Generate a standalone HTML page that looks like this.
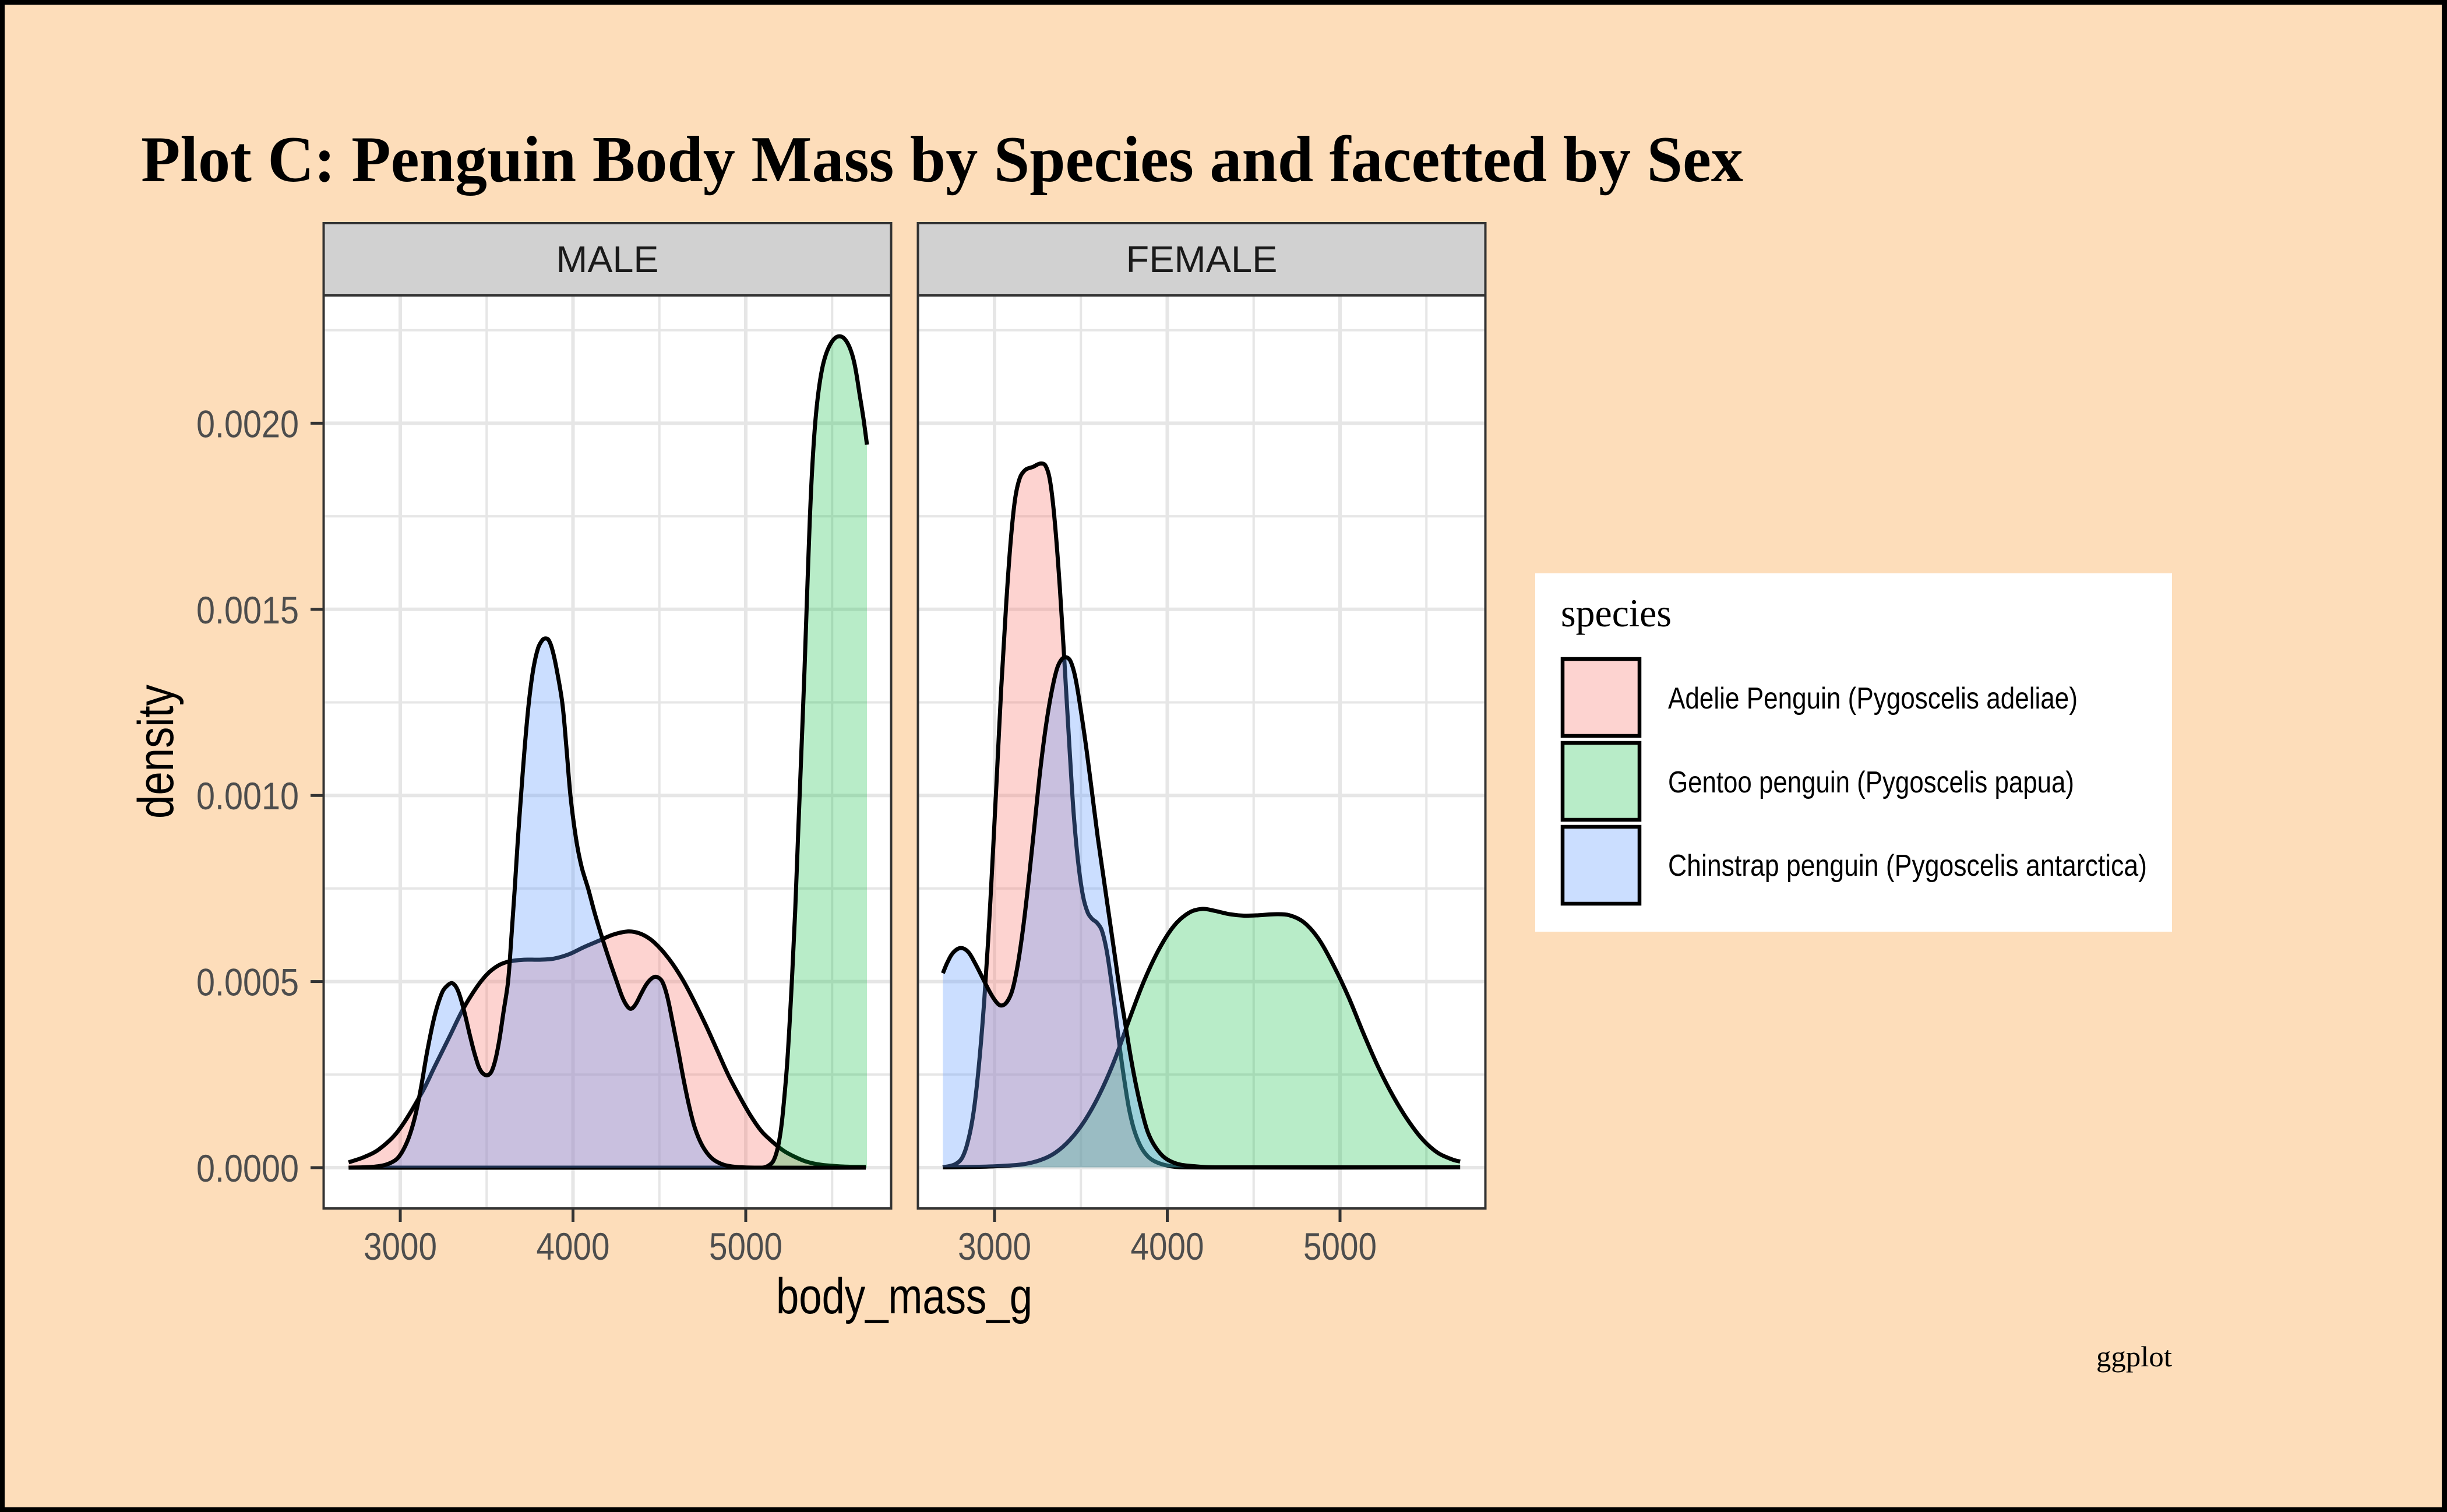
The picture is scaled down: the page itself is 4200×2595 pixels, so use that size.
<!DOCTYPE html>
<html>
<head>
<meta charset="utf-8">
<style>
html,body{margin:0;padding:0;background:#000;}
svg{display:block;}
</style>
</head>
<body>
<svg id="chart" xmlns="http://www.w3.org/2000/svg" width="4200" height="2595" viewBox="0 0 4200 2595">
  <rect x="0" y="0" width="4200" height="2595" fill="#000"/>
  <rect x="8" y="8" width="4183" height="2579" fill="#FDDDBA"/>

  <text x="242" y="311" font-family="'Liberation Serif', serif" font-weight="bold" font-size="112" fill="#000" textLength="2750" lengthAdjust="spacingAndGlyphs">Plot C: Penguin Body Mass by Species and facetted by Sex</text>

  <!-- ================= MALE PANEL ================= -->
  <rect x="555.5" y="507" width="974" height="1567" fill="#FFFFFF"/>
  <g stroke="#E6E6E6" stroke-width="4">
    <line x1="835.25" y1="507" x2="835.25" y2="2074"/>
    <line x1="1131.75" y1="507" x2="1131.75" y2="2074"/>
    <line x1="1428.25" y1="507" x2="1428.25" y2="2074"/>
    <line x1="555.5" y1="1844.3" x2="1529.5" y2="1844.3"/>
    <line x1="555.5" y1="1524.9" x2="1529.5" y2="1524.9"/>
    <line x1="555.5" y1="1205.5" x2="1529.5" y2="1205.5"/>
    <line x1="555.5" y1="886.1" x2="1529.5" y2="886.1"/>
    <line x1="555.5" y1="566.7" x2="1529.5" y2="566.7"/>
  </g>
  <g stroke="#E6E6E6" stroke-width="6">
    <line x1="687" y1="507" x2="687" y2="2074"/>
    <line x1="983.5" y1="507" x2="983.5" y2="2074"/>
    <line x1="1280" y1="507" x2="1280" y2="2074"/>
    <line x1="555.5" y1="2004" x2="1529.5" y2="2004"/>
    <line x1="555.5" y1="1684.6" x2="1529.5" y2="1684.6"/>
    <line x1="555.5" y1="1365.2" x2="1529.5" y2="1365.2"/>
    <line x1="555.5" y1="1045.8" x2="1529.5" y2="1045.8"/>
    <line x1="555.5" y1="726.4" x2="1529.5" y2="726.4"/>
  </g>

  <g class="m" transform="translate(555,1100) scale(0.63776,0.60588)">
    <polygon class="fl" fill="rgba(248,118,109,0.32)" points="68,1492 68,1477 110,1462 150,1440 200,1390 265,1280 300,1205 340,1120 375,1045 410,985 440,945 470,920 500,908 540,903 580,903 620,900 660,888 700,868 740,850 780,832 820,823 850,828 880,845 910,875 940,915 970,965 1000,1025 1030,1090 1060,1160 1090,1230 1120,1290 1150,1345 1180,1390 1210,1420 1240,1445 1270,1462 1300,1475 1340,1484 1400,1489 1460,1490 1460,1492"/>
    <polyline class="ln" fill="none" stroke="#000" stroke-width="7" vector-effect="non-scaling-stroke" stroke-linejoin="round" points="68,1477 110,1462 150,1440 200,1390 265,1280 300,1205 340,1120 375,1045 410,985 440,945 470,920 500,908 540,903 580,903 620,900 660,888 700,868 740,850 780,832 820,823 850,828 880,845 910,875 940,915 970,965 1000,1025 1030,1090 1060,1160 1090,1230 1120,1290 1150,1345 1180,1390 1210,1420 1240,1445 1270,1462 1300,1475 1340,1484 1400,1489 1460,1490"/>
    <polygon class="fl" fill="rgba(0,186,56,0.28)" points="68,1492 1180,1492 1195,1488 1210,1475 1222,1440 1232,1380 1240,1300 1248,1200 1255,1080 1262,940 1270,760 1278,540 1287,300 1295,80 1303,-165 1312,-413 1322,-594 1333,-710 1347,-792 1367,-845 1389,-863 1410,-845 1428,-792 1444,-693 1454,-627 1463,-556 1463,1492"/>
    <polyline class="ln" fill="none" stroke="#000" stroke-width="7" vector-effect="non-scaling-stroke" stroke-linejoin="round" points="68,1492 1180,1492 1195,1488 1210,1475 1222,1440 1232,1380 1240,1300 1248,1200 1255,1080 1262,940 1270,760 1278,540 1287,300 1295,80 1303,-165 1312,-413 1322,-594 1333,-710 1347,-792 1367,-845 1389,-863 1410,-845 1428,-792 1444,-693 1454,-627 1463,-556"/>
    <polygon class="fl" fill="rgba(97,156,255,0.33)" points="68,1492 130,1490 170,1483 200,1465 225,1420 245,1355 262,1270 280,1160 300,1060 320,995 335,975 348,970 362,990 378,1045 395,1120 410,1180 425,1220 443,1230 458,1205 472,1140 485,1050 497,966 506,840 515,703 523,570 532,438 542,300 553,175 565,80 578,20 590,-3 598,-7 606,-3 615,20 626,70 643,175 654,300 665,438 680,560 695,640 713,703 730,770 750,840 770,905 790,966 805,1010 818,1035 828,1042 840,1030 855,1000 870,972 885,955 898,952 912,965 925,1005 940,1080 955,1160 970,1245 985,1320 1000,1380 1020,1430 1045,1465 1075,1483 1110,1490 1160,1492 1460,1492"/>
    <polyline class="ln" fill="none" stroke="#000" stroke-width="7" vector-effect="non-scaling-stroke" stroke-linejoin="round" points="68,1492 130,1490 170,1483 200,1465 225,1420 245,1355 262,1270 280,1160 300,1060 320,995 335,975 348,970 362,990 378,1045 395,1120 410,1180 425,1220 443,1230 458,1205 472,1140 485,1050 497,966 506,840 515,703 523,570 532,438 542,300 553,175 565,80 578,20 590,-3 598,-7 606,-3 615,20 626,70 643,175 654,300 665,438 680,560 695,640 713,703 730,770 750,840 770,905 790,966 805,1010 818,1035 828,1042 840,1030 855,1000 870,972 885,955 898,952 912,965 925,1005 940,1080 955,1160 970,1245 985,1320 1000,1380 1020,1430 1045,1465 1075,1483 1110,1490 1160,1492 1460,1492"/>
  </g>
  <rect x="555.5" y="507" width="974" height="1567" fill="none" stroke="#333333" stroke-width="4"/>
  <rect x="555.5" y="383" width="974" height="124" fill="#D1D1D1" stroke="#333333" stroke-width="4"/>
  <text x="1042.5" y="467" text-anchor="middle" font-family="'Liberation Sans', sans-serif" font-size="64" fill="#1A1A1A" textLength="176" lengthAdjust="spacingAndGlyphs">MALE</text>

  <!-- ================= FEMALE PANEL ================= -->
  <rect x="1575.5" y="507" width="974" height="1567" fill="#FFFFFF"/>
  <g stroke="#E6E6E6" stroke-width="4">
    <line x1="1855.25" y1="507" x2="1855.25" y2="2074"/>
    <line x1="2151.75" y1="507" x2="2151.75" y2="2074"/>
    <line x1="2448.25" y1="507" x2="2448.25" y2="2074"/>
    <line x1="1575.5" y1="1844.3" x2="2549.5" y2="1844.3"/>
    <line x1="1575.5" y1="1524.9" x2="2549.5" y2="1524.9"/>
    <line x1="1575.5" y1="1205.5" x2="2549.5" y2="1205.5"/>
    <line x1="1575.5" y1="886.1" x2="2549.5" y2="886.1"/>
    <line x1="1575.5" y1="566.7" x2="2549.5" y2="566.7"/>
  </g>
  <g stroke="#E6E6E6" stroke-width="6">
    <line x1="1707" y1="507" x2="1707" y2="2074"/>
    <line x1="2003.5" y1="507" x2="2003.5" y2="2074"/>
    <line x1="2300" y1="507" x2="2300" y2="2074"/>
    <line x1="1575.5" y1="2004" x2="2549.5" y2="2004"/>
    <line x1="1575.5" y1="1684.6" x2="2549.5" y2="1684.6"/>
    <line x1="1575.5" y1="1365.2" x2="2549.5" y2="1365.2"/>
    <line x1="1575.5" y1="1045.8" x2="2549.5" y2="1045.8"/>
    <line x1="1575.5" y1="726.4" x2="2549.5" y2="726.4"/>
  </g>

  <g class="f" transform="translate(1575,750) scale(0.63776,0.82904)">
    <polygon class="fl" fill="rgba(248,118,109,0.32)" points="68,1512 100,1506 120,1492 138,1450 152,1390 165,1300 178,1180 190,1040 200,900 212,720 225,520 238,350 250,220 262,130 275,85 290,68 310,62 330,55 343,58 355,85 366,150 378,260 390,400 400,530 410,660 420,780 432,880 445,950 458,985 470,998 482,1005 495,1020 508,1060 520,1120 532,1190 545,1270 558,1340 570,1395 585,1440 605,1475 630,1496 670,1508 720,1512 1460,1512"/>
    <polyline class="ln" fill="none" stroke="#000" stroke-width="7" vector-effect="non-scaling-stroke" stroke-linejoin="round" points="68,1512 100,1506 120,1492 138,1450 152,1390 165,1300 178,1180 190,1040 200,900 212,720 225,520 238,350 250,220 262,130 275,85 290,68 310,62 330,55 343,58 355,85 366,150 378,260 390,400 400,530 410,660 420,780 432,880 445,950 458,985 470,998 482,1005 495,1020 508,1060 520,1120 532,1190 545,1270 558,1340 570,1395 585,1440 605,1475 630,1496 670,1508 720,1512 1460,1512"/>
    <polygon class="fl" fill="rgba(0,186,56,0.28)" points="68,1512 200,1510 280,1506 330,1497 370,1482 410,1455 450,1415 490,1360 530,1290 570,1205 610,1125 650,1060 690,1012 730,985 765,977 800,981 840,988 880,991 920,990 960,988 1000,990 1040,1005 1080,1040 1120,1095 1160,1160 1200,1235 1240,1305 1280,1365 1320,1415 1360,1455 1400,1482 1440,1496 1460,1500 1460,1512"/>
    <polyline class="ln" fill="none" stroke="#000" stroke-width="7" vector-effect="non-scaling-stroke" stroke-linejoin="round" points="68,1512 200,1510 280,1506 330,1497 370,1482 410,1455 450,1415 490,1360 530,1290 570,1205 610,1125 650,1060 690,1012 730,985 765,977 800,981 840,988 880,991 920,990 960,988 1000,990 1040,1005 1080,1040 1120,1095 1160,1160 1200,1235 1240,1305 1280,1365 1320,1415 1360,1455 1400,1482 1440,1496 1460,1500"/>
    <polygon class="fl" fill="rgba(97,156,255,0.33)" points="68,1512 68,1110 80,1088 95,1068 115,1058 135,1065 155,1090 175,1120 195,1150 212,1170 225,1177 240,1170 255,1145 270,1090 285,1010 300,910 315,800 330,690 345,600 360,530 375,480 388,460 400,456 412,465 425,500 440,570 455,650 470,740 485,830 500,910 515,990 530,1070 545,1150 560,1220 575,1290 590,1350 605,1400 620,1440 640,1470 665,1492 700,1505 750,1510 800,1512 1460,1512"/>
    <polyline class="ln" fill="none" stroke="#000" stroke-width="7" vector-effect="non-scaling-stroke" stroke-linejoin="round" points="68,1110 80,1088 95,1068 115,1058 135,1065 155,1090 175,1120 195,1150 212,1170 225,1177 240,1170 255,1145 270,1090 285,1010 300,910 315,800 330,690 345,600 360,530 375,480 388,460 400,456 412,465 425,500 440,570 455,650 470,740 485,830 500,910 515,990 530,1070 545,1150 560,1220 575,1290 590,1350 605,1400 620,1440 640,1470 665,1492 700,1505 750,1510 800,1512 1460,1512"/>
  </g>
  <rect x="1575.5" y="507" width="974" height="1567" fill="none" stroke="#333333" stroke-width="4"/>
  <rect x="1575.5" y="383" width="974" height="124" fill="#D1D1D1" stroke="#333333" stroke-width="4"/>
  <text x="2062.5" y="467" text-anchor="middle" font-family="'Liberation Sans', sans-serif" font-size="64" fill="#1A1A1A" textLength="260" lengthAdjust="spacingAndGlyphs">FEMALE</text>

  <!-- ================= AXES ================= -->
  <g stroke="#333333" stroke-width="5">
    <line x1="533" y1="2004" x2="555.5" y2="2004"/>
    <line x1="533" y1="1684.6" x2="555.5" y2="1684.6"/>
    <line x1="533" y1="1365.2" x2="555.5" y2="1365.2"/>
    <line x1="533" y1="1045.8" x2="555.5" y2="1045.8"/>
    <line x1="533" y1="726.4" x2="555.5" y2="726.4"/>
  </g>
  <g font-family="'Liberation Sans Narrow', 'Liberation Sans', sans-serif" font-size="66" fill="#4D4D4D" text-anchor="end">
    <text x="513" y="2028" textLength="176" lengthAdjust="spacingAndGlyphs">0.0000</text>
    <text x="513" y="1708.6" textLength="176" lengthAdjust="spacingAndGlyphs">0.0005</text>
    <text x="513" y="1389.2" textLength="176" lengthAdjust="spacingAndGlyphs">0.0010</text>
    <text x="513" y="1069.8" textLength="176" lengthAdjust="spacingAndGlyphs">0.0015</text>
    <text x="513" y="750.4" textLength="176" lengthAdjust="spacingAndGlyphs">0.0020</text>
  </g>
  <g stroke="#333333" stroke-width="5">
    <line x1="687" y1="2074" x2="687" y2="2097"/>
    <line x1="983.5" y1="2074" x2="983.5" y2="2097"/>
    <line x1="1280" y1="2074" x2="1280" y2="2097"/>
    <line x1="1707" y1="2074" x2="1707" y2="2097"/>
    <line x1="2003.5" y1="2074" x2="2003.5" y2="2097"/>
    <line x1="2300" y1="2074" x2="2300" y2="2097"/>
  </g>
  <g font-family="'Liberation Sans Narrow', 'Liberation Sans', sans-serif" font-size="66" fill="#4D4D4D" text-anchor="middle">
    <text x="687" y="2162" textLength="126" lengthAdjust="spacingAndGlyphs">3000</text>
    <text x="983.5" y="2162" textLength="126" lengthAdjust="spacingAndGlyphs">4000</text>
    <text x="1280" y="2162" textLength="126" lengthAdjust="spacingAndGlyphs">5000</text>
    <text x="1707" y="2162" textLength="126" lengthAdjust="spacingAndGlyphs">3000</text>
    <text x="2003.5" y="2162" textLength="126" lengthAdjust="spacingAndGlyphs">4000</text>
    <text x="2300" y="2162" textLength="126" lengthAdjust="spacingAndGlyphs">5000</text>
  </g>
  <text x="1552" y="2254" text-anchor="middle" font-family="'Liberation Sans Narrow', 'Liberation Sans', sans-serif" font-size="86" fill="#000" textLength="440" lengthAdjust="spacingAndGlyphs">body_mass_g</text>
  <text transform="translate(297,1290) rotate(-90)" x="0" y="0" text-anchor="middle" font-family="'Liberation Sans Narrow', 'Liberation Sans', sans-serif" font-size="86" fill="#000" textLength="230" lengthAdjust="spacingAndGlyphs">density</text>

  <!-- ================= LEGEND ================= -->
  <rect x="2635" y="984" width="1093" height="615" fill="#FFFFFF"/>
  <text x="2679" y="1075" font-family="'Liberation Serif', serif" font-size="68" fill="#000" textLength="190" lengthAdjust="spacingAndGlyphs">species</text>
  <rect x="2682" y="1131" width="132" height="132" fill="rgba(248,118,109,0.32)" stroke="#000" stroke-width="6.5"/>
  <rect x="2682" y="1275" width="132" height="132" fill="rgba(0,186,56,0.28)" stroke="#000" stroke-width="6.5"/>
  <rect x="2682" y="1419" width="132" height="132" fill="rgba(97,156,255,0.33)" stroke="#000" stroke-width="6.5"/>
  <g font-family="'Liberation Sans Narrow', 'Liberation Sans', sans-serif" font-size="52" fill="#000">
    <text x="2863" y="1216" textLength="703" lengthAdjust="spacingAndGlyphs">Adelie Penguin (Pygoscelis adeliae)</text>
    <text x="2863" y="1360" textLength="697" lengthAdjust="spacingAndGlyphs">Gentoo penguin (Pygoscelis papua)</text>
    <text x="2863" y="1503" textLength="822" lengthAdjust="spacingAndGlyphs">Chinstrap penguin (Pygoscelis antarctica)</text>
  </g>

  <text x="3728" y="2345" text-anchor="end" font-family="'Liberation Serif', serif" font-size="50" fill="#000" textLength="130" lengthAdjust="spacingAndGlyphs">ggplot</text>
</svg>
<script>
(function(){
  try{
    var NS="http://www.w3.org/2000/svg";
    function parse(s){
      return s.trim().split(/\s+/).map(function(p){var a=p.split(',');return [parseFloat(a[0]),parseFloat(a[1])];});
    }
    function smooth(pts){
      var d="M"+pts[0][0].toFixed(2)+","+pts[0][1].toFixed(2);
      for(var i=0;i<pts.length-1;i++){
        var p0=pts[i-1]||pts[i], p1=pts[i], p2=pts[i+1], p3=pts[i+2]||p2;
        var L=Math.hypot(p2[0]-p1[0],p2[1]-p1[1])/3;
        var t1x=p2[0]-p0[0], t1y=p2[1]-p0[1], n1=Math.hypot(t1x,t1y)||1;
        var t2x=p3[0]-p1[0], t2y=p3[1]-p1[1], n2=Math.hypot(t2x,t2y)||1;
        var c1x=p1[0]+t1x/n1*L, c1y=p1[1]+t1y/n1*L;
        var c2x=p2[0]-t2x/n2*L, c2y=p2[1]-t2y/n2*L;
        d+=" C"+c1x.toFixed(2)+","+c1y.toFixed(2)+" "+c2x.toFixed(2)+","+c2y.toFixed(2)+" "+p2[0].toFixed(2)+","+p2[1].toFixed(2);
      }
      return d;
    }
    var specs=[
      {sel:'#chart g.m', tx:555, ty:1100, sx:0.63776, sy:0.60588, base:1492},
      {sel:'#chart g.f', tx:1575, ty:750, sx:0.63776, sy:0.82904, base:1512}
    ];
    specs.forEach(function(sp){
      var grp=document.querySelector(sp.sel);
      if(!grp) return;
      var lines=Array.prototype.slice.call(grp.querySelectorAll('polyline.ln'));
      var fills=Array.prototype.slice.call(grp.querySelectorAll('polygon.fl'));
      var out=[];
      var baseY=sp.base*sp.sy+sp.ty;
      for(var k=0;k<lines.length;k++){
        var pts=parse(lines[k].getAttribute('points')).map(function(p){return [p[0]*sp.sx+sp.tx, p[1]*sp.sy+sp.ty];});
        var d=smooth(pts);
        var first=pts[0], last=pts[pts.length-1];
        var pf=document.createElementNS(NS,'path');
        pf.setAttribute('d',d+" L"+last[0].toFixed(2)+","+baseY.toFixed(2)+" L"+first[0].toFixed(2)+","+baseY.toFixed(2)+" Z");
        pf.setAttribute('fill',fills[k].getAttribute('fill'));
        var pl=document.createElementNS(NS,'path');
        pl.setAttribute('d',d);
        pl.setAttribute('fill','none');
        pl.setAttribute('stroke','#000');
        pl.setAttribute('stroke-width','7');
        pl.setAttribute('stroke-linejoin','round');
        out.push(pf); out.push(pl);
      }
      while(grp.firstChild) grp.removeChild(grp.firstChild);
      grp.removeAttribute('transform');
      out.forEach(function(el){grp.appendChild(el);});
    });
  }catch(e){}
})();
</script>
</body>
</html>
